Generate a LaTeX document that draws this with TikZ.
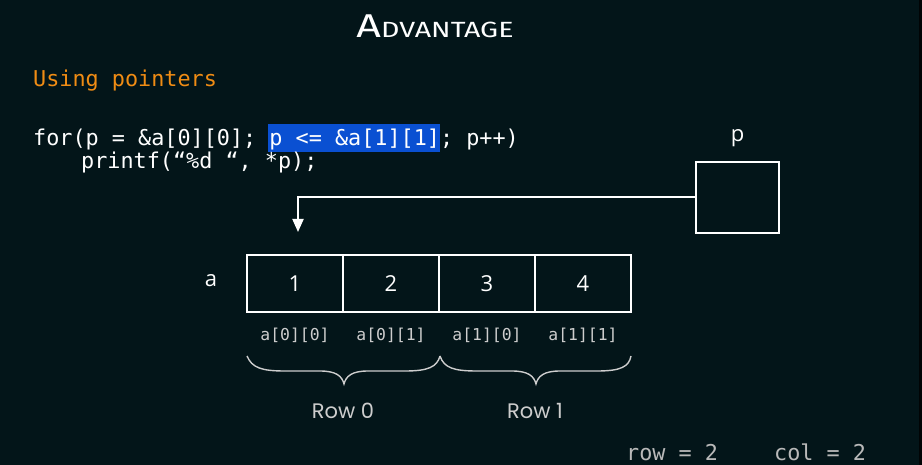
\documentclass[tikz,border=0pt]{standalone}
\usepackage{fontspec}
\usepackage{graphicx}
\setmainfont{Open Sans}
\setmonofont{DejaVu Sans Mono}
\newfontfamily\titlefont{Fira Sans}
\newfontfamily\rowfont{Poppins}
\usetikzlibrary{arrows.meta}
\definecolor{bg}{RGB}{3,21,25}
\definecolor{codeorange}{RGB}{240,140,20}
\definecolor{hlblue}{RGB}{10,80,210}
\definecolor{lightgrey}{RGB}{205,205,205}
\tikzset{
  cell/.style={draw=white, line width=2pt, minimum width=96pt, minimum height=57pt, inner sep=0pt, text=white, font=\fontsize{22}{22}\selectfont},
  ptrbox/.style={draw=white, line width=2pt, minimum width=83pt, minimum height=71pt, inner sep=0pt},
  code/.style={anchor=base west, inner sep=0pt, text=white, font=\ttfamily\fontsize{21.8}{26}\selectfont},
  idx/.style={inner sep=0pt, anchor=base, text=lightgrey, font=\ttfamily\fontsize{16.4}{18}\selectfont},
  rowlbl/.style={inner sep=0pt, anchor=base, text=lightgrey, font=\rowfont\fontsize{21}{22}\selectfont},
  plain/.style={inner sep=0pt, text=white, font=\fontsize{22}{22}\selectfont},
  bracepath/.style={draw=lightgrey, line width=1.4pt},
  dimtext/.style={inner sep=0pt, anchor=base west, text=lightgrey!90!black, font=\ttfamily\fontsize{21.8}{24}\selectfont},
}
\begin{document}
\begin{tikzpicture}[x=1pt,y=-1pt]
\useasboundingbox (0,0) rectangle (922,465);
\fill[bg] (0,0) rectangle (922,465);
\fill[black!80!bg] (919,0) rectangle (922,465);
% title
\node[inner sep=0pt, anchor=base, text=white] (title) at (435,38)
  {\scalebox{1.3}[1]{\titlefont{\fontsize{33}{33}\selectfont A}{\fontsize{22}{22}\selectfont DVANTAGE}}};
% subtitle
\node[code, text=codeorange] (sub) at (33,87) {Using pointers};
% highlight
\fill[hlblue] (268,124) rectangle (440,152);
\node[code] (line1) at (33,146) {for(p = \&a[0][0]; p <= \&a[1][1]; p++)};
\node[code] (line2) at (81,169) {printf(“\%d “, *p);};
% pointer box
\node[ptrbox] (pbox) at (737.5,197.5) {};
\node[plain, anchor=base] (plbl) at (737.5,142) {p};
% array
\node[cell] (c1) at (295,283.5) {1};
\node[cell] (c2) at (391,283.5) {2};
\node[cell] (c3) at (487,283.5) {3};
\node[cell] (c4) at (583,283.5) {4};
\node[plain] (albl) at (211,281) {a};
% arrow
\coordinate (tip) at (298,232);
\draw[white, line width=2pt, -{Triangle[width=11pt,length=13pt]}] (pbox.west) -| (tip);
% index labels
\node[idx] (i1) at (295,341) {a[0][0]};
\node[idx] (i2) at (391,341) {a[0][1]};
\node[idx] (i3) at (487,341) {a[1][0]};
\node[idx] (i4) at (583,341) {a[1][1]};
% braces
\draw[bracepath] (247,356) .. controls (252,368) and (262,371) .. (285,371)
  -- (320,371) .. controls (336,371) and (342,376) .. (344,384)
  .. controls (346,376) and (352,371) .. (368,371) -- (405,371)
  .. controls (428,371) and (437,367) .. (440,356);
\draw[bracepath] (440,356) .. controls (444,368) and (454,371) .. (477,371)
  -- (512,371) .. controls (528,371) and (534,376) .. (536,384)
  .. controls (538,376) and (544,371) .. (560,371) -- (597,371)
  .. controls (620,371) and (629,367) .. (631,356);
\node[rowlbl] (r0) at (343,418) {Row 0};
\node[rowlbl] (r1) at (535,418) {Row 1};
% row col
\node[dimtext] (rowv) at (626,460) {row = 2};
\node[dimtext] (colv) at (774,460) {col = 2};
\end{tikzpicture}
\end{document}
